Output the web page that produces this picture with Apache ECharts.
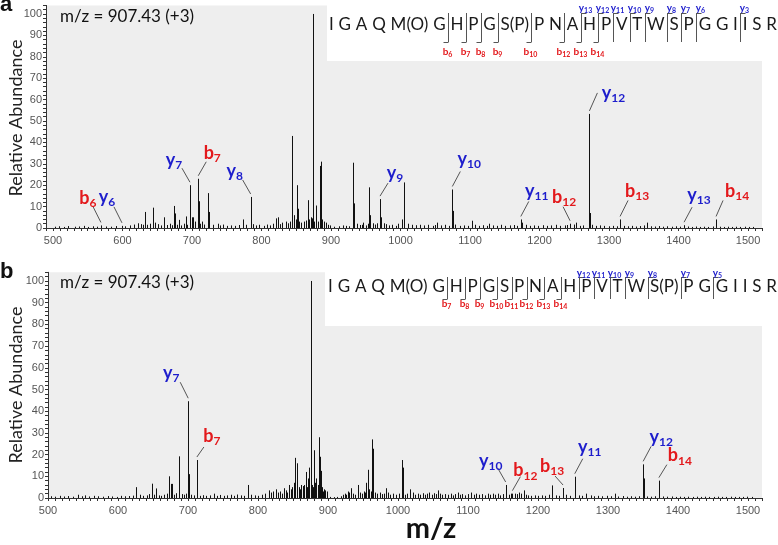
<!DOCTYPE html>
<html><head><meta charset="utf-8">
<script src="https://cdn.jsdelivr.net/npm/echarts@6/dist/echarts.min.js"></script>
<style>html,body{margin:0;padding:0;background:#fff}#c{width:778px;height:545px}</style>
</head><body><div id="c"></div><script>
// ---------------- DATA ----------------
const xTickStep = 100;
const precursorText = 'm/z = 907.43 (+3)';
const yAxisTitle = 'Relative Abundance';
const xAxisTitle = 'm/z';

// Panel a: main peaks [m/z, relative abundance]
const peaksA = [[569,1.2],[599.3,1.0],[632.4,7.5],[644.3,9.5],[659.7,5],[674.1,10.3],[676,6.8],[681.3,3.8],[691,5.4],[697.1,20],[699.5,5],[701.9,5],[709,23],[710.5,12.5],[714,3],[723.5,16.3],[724.9,7.5],[737.4,2],[773.8,4],[784.4,14.5],[785.6,4],[820.4,4.5],[823.3,5],[834.8,3],[843.4,43],[844.6,32],[850.6,20],[852,9],[866.9,13],[870.6,5],[873.7,100],[874.5,76],[878.4,10.5],[884.2,29],[885.6,31],[892.8,2.5],[932,30.5],[933,11.5],[946,2.5],[955,19],[956.1,6],[970.5,13.5],[971.9,5],[1001.7,4],[1004.5,21.3],[1005.3,16.7],[1053,2.5],[1074.5,18],[1075.3,8],[1102.4,3.4],[1127.3,2],[1173,4],[1174.5,2.5],[1243.9,2],[1252.5,2.5],[1271.7,53.3],[1272.5,7],[1315.8,4],[1354.2,2.5],[1407.9,1.3],[1453.9,4]];
// Panel a: small peaks near the baseline
const noiseA = [[503,0.6],[509,0.8],[516,0.5],[522,0.9],[531,0.6],[538,0.7],[545,1.0],[551,0.5],[558,0.8],[563,0.6],[577,0.7],[584,0.6],[591,0.9],[604,0.8],[611,1.2],[616,1.6],[622,2.2],[626,1.8],[629,1.5],[635,1.5],[640,2.0],[647,2.5],[651,1.8],[655,1.2],[664,1.4],[668,2.0],[671,1.3],[678,1.5],[684,1.2],[688,2.0],[693,1.5],[704,3],[712,2],[718,1.6],[730,1.5],[741,1.2],[745,1.6],[750,1.0],[756,1.2],[762,1.0],[768,1.4],[778,1.5],[788,1.8],[792,1.2],[797,1.5],[803,1.0],[808,1.6],[812,1.2],[816,2],[827,1.8],[830,2.5],[838,2.2],[841,3],[847,6],[849,4],[854,3],[857,2.5],[861,3],[864,3.5],[868,4],[872,4.5],[876,3],[879,3.5],[882,3],[887,4],[890,3],[895,1.5],[898,1.2],[905,0.6],[911,0.8],[917,1.2],[921,1.0],[926,0.8],[937,2.0],[941,1.4],[945,1.5],[950,1.2],[953,2.0],[960,2.2],[963,1.6],[966,2.2],[976,2.2],[979,1.8],[984,1.2],[988,1.5],[993,1.0],[997,2.0],[1011,2.0],[1016,1.5],[1022,1.3],[1028,1.5],[1034,1.2],[1040,1.5],[1046,1.0],[1050,1.4],[1058,1.2],[1064,1.5],[1070,1.0],[1079,1.6],[1085,1.0],[1091,1.2],[1097,1.0],[1107,1.5],[1113,1.0],[1119,1.3],[1125,1.0],[1133,1.2],[1139,1.0],[1145,1.5],[1151,1.0],[1157,1.2],[1163,1.4],[1168,1.0],[1180,1.5],[1186,1.0],[1192,1.2],[1198,1.0],[1205,1.3],[1211,1.0],[1217,1.2],[1223,1.5],[1230,1.0],[1236,1.2],[1240,1.4],[1249,1.6],[1258,1.0],[1263,1.2],[1276,1.5],[1281,1.0],[1287,1.2],[1293,1.0],[1300,0.8],[1306,1.0],[1311,0.8],[1321,1.0],[1327,0.8],[1333,1.0],[1339,0.7],[1345,0.9],[1350,1.2],[1360,0.8],[1366,0.7],[1372,0.9],[1378,0.6],[1384,0.8],[1390,0.6],[1396,0.8],[1402,0.6],[1413,0.7],[1419,0.5],[1425,0.7],[1431,0.5],[1437,0.6],[1443,0.5],[1449,0.7],[1459,0.6],[1465,0.5],[1471,0.6],[1477,0.5],[1483,0.6],[1489,0.5],[1495,0.6],[1501,0.5],[1507,0.5]];

// Panel b: main peaks
const peaksB = [[626.3,5],[648.4,6.6],[654.9,4.4],[673.1,10],[675.5,6.5],[677,6.5],[687.4,19.2],[700.3,44.6],[701.7,11],[712.7,17.5],[736.5,2],[785.1,6],[815.2,3.5],[825.7,4],[836.6,4.5],[843.8,6],[850.9,7],[853.4,18.5],[855.2,16],[868.7,12],[871,9],[873.4,14],[875.8,100],[880.5,22],[883,9],[886.7,28],[888.7,19],[890.6,12.5],[894.8,4],[898.1,3],[928.2,3],[933,4.5],[942.5,6],[954.5,7],[956.8,13],[963.1,27],[964,22.7],[983.1,4.5],[1006,17.5],[1006.8,14],[1017.5,4],[1056.9,3.5],[1104.7,2.5],[1135.6,2],[1153.8,6],[1163.4,2],[1179.5,3.5],[1220.6,5.8],[1235.8,4.6],[1252.5,9.8],[1253.3,6],[1269.2,2],[1309.7,2],[1350.2,15.5],[1350.9,9],[1372.7,8],[1373.5,6]];
// Panel b: small peaks near the baseline
const noiseB = [[504,0.8],[510,0.6],[517,1.0],[523,0.7],[529,0.9],[536,0.6],[543,1.5],[548,0.8],[553,1.2],[559,0.7],[566,1.0],[572,0.8],[579,0.6],[585,0.9],[592,0.7],[598,0.5],[604,1.0],[610,0.8],[616,0.9],[621,1.1],[631,1.5],[636,1.0],[641,1.2],[645,1.8],[651,1.5],[658,1.2],[662,1.0],[666,1.5],[670,2.0],[680,1.5],[683,2.2],[691,1.8],[694,1.5],[697,2.0],[705,1.5],[709,1.2],[717,1.0],[721,1.3],[726,1.0],[731,1.2],[741,1.0],[746,1.4],[751,1.0],[756,1.2],[761,1.5],[766,1.0],[770,1.6],[775,1.2],[780,1.0],[790,1.5],[795,1.2],[800,1.0],[805,1.5],[810,2.0],[818,2.5],[821,3],[828,2.5],[831,3],[834,2],[840,3.5],[842,2.5],[847,4],[849,5],[858,5],[860,4],[862,6],[864,5.5],[866,6],[869.8,5],[872,6.5],[877,6],[878.5,5],[882,7],[885,6],[892,5],[893.5,3],[896,3.5],[899,2.5],[903,0.5],[908,0.4],[913,0.5],[918,0.8],[921,1.5],[924,2.0],[926,1.5],[930,2.5],[936,2.0],[939,1.5],[945,2.5],[948,2.0],[951,3.0],[953,2.5],[959,4.0],[961,3.0],[967,2.5],[970,2.0],[974,2.5],[977,1.8],[980,2.0],[986,2.5],[989,1.5],[993,2.0],[997,1.5],[1001,2.0],[1010,1.5],[1013,2.0],[1021,2.5],[1024,1.5],[1028,2.0],[1031,1.5],[1035,2.2],[1038,1.5],[1041,2.0],[1044,2.5],[1048,1.5],[1051,2.2],[1054,1.8],[1060,2.0],[1063,1.5],[1067,1.8],[1071,1.5],[1075,2.0],[1078,1.2],[1082,1.8],[1086,2.5],[1089,1.5],[1092,1.8],[1096,1.2],[1100,1.8],[1108,1.5],[1112,2.0],[1116,1.5],[1120,1.8],[1124,1.2],[1128,2.0],[1131,1.5],[1139,1.5],[1143,2.0],[1146,1.2],[1150,1.8],[1158,1.5],[1161,2.0],[1167,2.0],[1170,1.8],[1173,2.5],[1176,2.0],[1183,1.5],[1186,1.2],[1190,1.0],[1195,1.2],[1200,1.0],[1205,1.2],[1210,1.0],[1215,1.5],[1225,1.2],[1230,1.0],[1240,1.5],[1245,1.0],[1258,1.2],[1263,1.0],[1275,1.2],[1280,0.8],[1286,1.0],[1292,0.8],[1298,1.0],[1304,0.8],[1315,0.7],[1321,0.9],[1327,0.6],[1333,0.8],[1339,0.6],[1345,0.8],[1356,0.7],[1362,0.6],[1367,0.8],[1379,0.7],[1385,0.6],[1391,0.7],[1397,0.5],[1403,0.6],[1409,0.5],[1415,0.6],[1421,0.5],[1427,0.6],[1433,0.5],[1439,0.6],[1445,0.5],[1451,0.5],[1457,0.6],[1463,0.5],[1469,0.5],[1475,0.6],[1481,0.5],[1487,0.5],[1493,0.5],[1499,0.6],[1505,0.5]];

// Annotated fragment ions
const ionTypeA = ['b','y','y','b','y','y','y','y','b','y','b','y','b'];
const ionNumA  = ['6','6','7','7','8','9','10','11','12','12','13','13','14'];
const ionMzA   = [569,599.3,697.1,709,784.4,970.5,1074.5,1173,1243.9,1271.7,1315.8,1407.9,1453.9];
const ionIntA  = [1.2,1.0,20,23,14.5,13.5,18,4,2,53.3,4,1.3,4];
const ionTypeB = ['y','b','y','b','b','y','y','b'];
const ionNumB  = ['7','7','10','12','13','11','12','14'];
const ionMzB   = [700.3,712.7,1153.8,1163.4,1235.8,1252.5,1350.2,1372.7];
const ionIntB  = [44.6,17.5,6,2,4.6,9.8,15.5,8];

// Peptide sequences and fragment marks (break = number of residues before the cut)
const seqA = ['I','G','A','Q','M(O)','G','H','P','G','S(P)','P','N','A','H','P','V','T','W','S','P','G','G','I','I','S','R'];
const bBreaksA = [6,7,8,9,10,12,13,14];
const bLabelsA = ['6','7','8','9','10','12','13','14'];
const yBreaksA = [13,14,15,16,17,18,19,20,23];
const yLabelsA = ['13','12','11','10','9','8','7','6','3'];
const seqB = ['I','G','A','Q','M(O)','G','H','P','G','S','P','N','A','H','P','V','T','W','S(P)','P','G','G','I','I','S','R'];
const bBreaksB = [6,7,8,9,10,11,12,13];
const bLabelsB = ['7','8','9','10','11','12','13','14'];
const yBreaksB = [14,15,16,17,18,19,21];
const yLabelsB = ['12','11','10','9','8','7','5'];

// ---------------- STYLE / LAYOUT ----------------
const BLUE = '#1d1dcc', RED = '#e3191c';
const FONT = 'Lato, "Open Sans", sans-serif';
// label placement offsets (px) relative to peak top: [leaderEndDx, leaderEndDy, labelDx, labelDy]
const offA = [[-8,-19,-13,-27],[-8,-19,-15,-29],[-8,-17,-16,-25],[8,-17,14,-26],[-8,-17,-16,-26],[8,-16,15,-26],[8,-18,17,-30],[8,-18,16,-28],[-7,-17,-6,-27],[8,-21,24,-21],[8,-19,17,-28],[8,-18,15,-30],[7,-19,21,-28]];
const offB = [[-8,-19,-17,-28],[7,-13,15,-24],[-8,-17,-15,-24],[8,-17,13,-23],[-8,-12,-11,-22],[8,-18,15,-30],[8,-18,18,-27],[8,-16,21,-25]];

const mctx = document.createElement('canvas').getContext('2d');
function tw(t, size, weight){ mctx.font = (weight||'normal') + ' ' + size + 'px ' + FONT; return mctx.measureText(t).width; }

function subLabel(main, sub, cx, cy, color, s1, s2, subDy){
  const w1 = tw(main, s1, 'bold'), w2 = tw(sub, s2, 'bold');
  const left = cx - (w1 + w2) / 2;
  return [
    {type:'text', x:left, y:cy, style:{text:main, fontSize:s1, fontWeight:'bold', fontFamily:FONT, fill:color, align:'left', verticalAlign:'middle'}},
    {type:'text', x:left + w1, y:cy + subDy, style:{text:sub, fontSize:s2, fontWeight:'bold', fontFamily:FONT, fill:color, align:'left', verticalAlign:'middle'}}
  ];
}

function annotRender(types, nums, offs){
  return function(params, api){
    const i = params.dataIndex;
    const p = api.coord([api.value(0), api.value(1)]);
    const o = offs[i];
    const color = types[i] === 'b' ? RED : BLUE;
    const children = [{type:'line', shape:{x1:p[0], y1:p[1]-3, x2:p[0]+o[0], y2:p[1]+o[1]}, style:{stroke:'#555', lineWidth:1}}];
    return {type:'group', children: children.concat(subLabel(types[i], nums[i], p[0]+o[2], p[1]+o[3], color, 18, 12, 5))};
  };
}

function stickRender(params, api){
  const a = api.coord([api.value(0), 0]);
  const b = api.coord([api.value(0), api.value(1)]);
  const px = Math.round(a[0]) + 0.5;
  return {type:'line', shape:{x1:px, y1:a[1], x2:px, y2:b[1]}, style:{stroke:'#111', lineWidth:1}};
}

function seqGraphics(tokens, bBreaks, bLabels, yBreaks, yLabels, g){
  const ws = tokens.map(t => tw(t, g.size));
  const total = ws.reduce((s, w) => s + w, 0);
  const gap = (g.x1 - g.x0 - total) / (tokens.length - 1);
  const starts = []; let x = g.x0;
  ws.forEach(w => { starts.push(x); x += w + gap; });
  const els = [];
  tokens.forEach((t, i) => els.push({type:'text', x:starts[i], y:g.yc, z:101, style:{text:t, fontSize:g.size, fontFamily:FONT, fill:'#1a1a1a', align:'left', verticalAlign:'middle'}}));
  const bx = k => Math.round(starts[k] - gap / 2) + 0.5;
  const ls = {stroke:'#555', lineWidth:1};
  const all = new Set(bBreaks.concat(yBreaks));
  all.forEach(k => els.push({type:'line', z:101, shape:{x1:bx(k), y1:g.bt, x2:bx(k), y2:g.bb}, style:ls}));
  bBreaks.forEach((k, i) => {
    els.push({type:'line', z:101, shape:{x1:bx(k)-5, y1:g.bb+0.5, x2:bx(k), y2:g.bb+0.5}, style:ls});
    subLabel('b', bLabels[i], bx(k) - 1, g.bl, RED, 10, 7, 3).forEach(e => { e.z = 101; els.push(e); });
  });
  yBreaks.forEach((k, i) => {
    els.push({type:'line', z:101, shape:{x1:bx(k), y1:g.bt+0.5, x2:bx(k)+5, y2:g.bt+0.5}, style:ls});
    subLabel('y', yLabels[i], bx(k) + 4, g.yl, BLUE, 10, 7, 3).forEach(e => { e.z = 101; els.push(e); });
  });
  return els;
}

const xAxisCommon = {
  type:'value', interval:10, max:1520,
  axisLine:{show:true, onZero:false, lineStyle:{color:'#333', width:1}},
  axisTick:{show:true, length:3, lineStyle:{color:'#333'}},
  splitLine:{show:false},
  axisLabel:{margin:7, fontSize:11, color:'#555', fontFamily:'"Liberation Sans", Arial', formatter: v => (v % xTickStep === 0 ? String(v) : '')}
};
const yAxisCommon = {
  type:'value', min:0, max:104, interval:2,
  axisLine:{show:true, lineStyle:{color:'#333', width:1}},
  axisTick:{show:true, length:3, lineStyle:{color:'#333'}},
  splitLine:{show:false},
  axisLabel:{margin:4, fontSize:11, color:'#555', fontFamily:'"Liberation Sans", Arial', formatter: v => (v % 10 === 0 && v <= 100 ? String(v) : '')}
};

const graphics = [
  {type:'rect', z:100, shape:{x:327, y:0, width:451, height:61}, style:{fill:'#fff'}},
  {type:'rect', z:100, shape:{x:325, y:262, width:453, height:64}, style:{fill:'#fff'}},
  {type:'text', x:0, y:5, z:101, style:{text:'a', fontSize:22, fontWeight:'bold', fontFamily:'"Liberation Sans", Arial', fill:'#111', verticalAlign:'middle'}},
  {type:'text', x:0, y:272, z:101, style:{text:'b', fontSize:22, fontWeight:'bold', fontFamily:'"Liberation Sans", Arial', fill:'#111', verticalAlign:'middle'}},
  {type:'text', x:60, y:17, z:101, style:{text:precursorText, fontSize:17, fontFamily:FONT, fill:'#111', verticalAlign:'middle'}},
  {type:'text', x:60, y:283, z:101, style:{text:precursorText, fontSize:17, fontFamily:FONT, fill:'#111', verticalAlign:'middle'}},
  {type:'text', x:16, y:118, rotation:Math.PI/2, z:101, style:{text:yAxisTitle, fontSize:18, fontFamily:FONT, fill:'#222', align:'center', verticalAlign:'middle'}},
  {type:'text', x:16, y:385, rotation:Math.PI/2, z:101, style:{text:yAxisTitle, fontSize:18, fontFamily:FONT, fill:'#222', align:'center', verticalAlign:'middle'}},
  {type:'text', x:431, y:529, z:101, style:{text:xAxisTitle, fontSize:29, fontWeight:'bold', fontFamily:FONT, fill:'#111', align:'center', verticalAlign:'middle'}}
].concat(
  seqGraphics(seqA, bBreaksA, bLabelsA, yBreaksA, yLabelsA, {x0:329, x1:777, yc:25, bt:13, bb:42, yl:8, bl:52, size:17}),
  seqGraphics(seqB, bBreaksB, bLabelsB, yBreaksB, yLabelsB, {x0:328, x1:777, yc:287, bt:277, bb:299, yl:273, bl:304, size:17})
);

const chart = echarts.init(document.getElementById('c'), null, {renderer:'canvas'});
chart.setOption({
  animation:false,
  backgroundColor:'#fff',
  grid:[
    {left:46, top:5.4, width:716, height:222.6, show:true, backgroundColor:'#eeeeee', borderWidth:0, containLabel:false, outerBoundsMode:'none'},
    {left:48, top:272.3, width:714, height:225.7, show:true, backgroundColor:'#eeeeee', borderWidth:0, containLabel:false, outerBoundsMode:'none'}
  ],
  xAxis:[Object.assign({}, xAxisCommon, {gridIndex:0, min:490}), Object.assign({}, xAxisCommon, {gridIndex:1, min:500})],
  yAxis:[Object.assign({}, yAxisCommon, {gridIndex:0}), Object.assign({}, yAxisCommon, {gridIndex:1})],
  graphic: graphics,
  series:[
    {type:'custom', xAxisIndex:0, yAxisIndex:0, data:noiseA.concat(peaksA), encode:{x:0, y:1}, renderItem:stickRender, silent:true, z:3},
    {type:'custom', xAxisIndex:1, yAxisIndex:1, data:noiseB.concat(peaksB), encode:{x:0, y:1}, renderItem:stickRender, silent:true, z:3},
    {type:'custom', xAxisIndex:0, yAxisIndex:0, data:ionMzA.map((m, i) => [m, ionIntA[i]]), encode:{x:0, y:1}, renderItem:annotRender(ionTypeA, ionNumA, offA), clip:false, silent:true, z:5},
    {type:'custom', xAxisIndex:1, yAxisIndex:1, data:ionMzB.map((m, i) => [m, ionIntB[i]]), encode:{x:0, y:1}, renderItem:annotRender(ionTypeB, ionNumB, offB), clip:false, silent:true, z:5}
  ]
});
</script></body></html>
